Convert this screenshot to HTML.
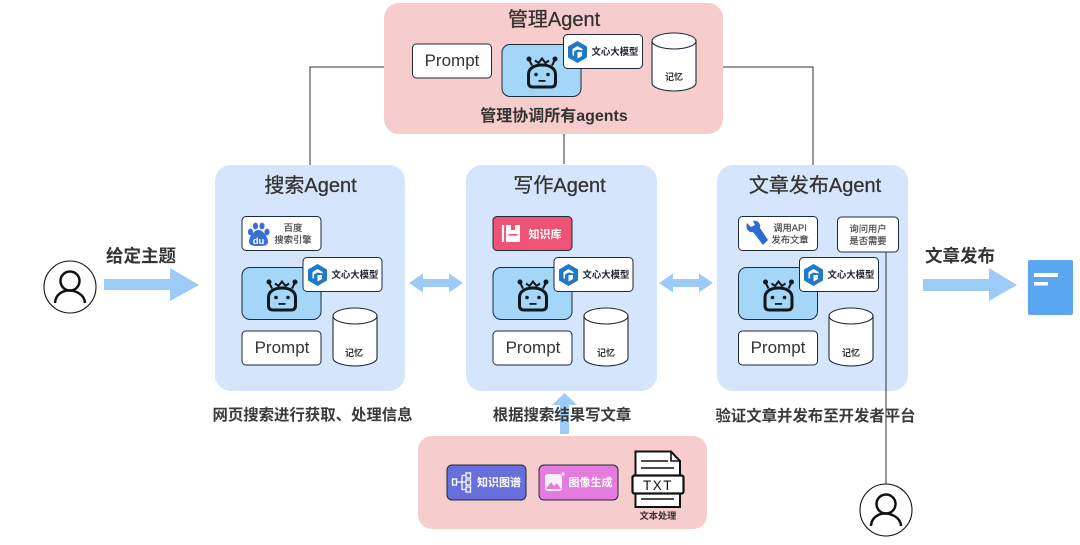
<!DOCTYPE html>
<html><head><meta charset="utf-8"><style>
html,body{margin:0;padding:0;background:#fff}
svg{display:block}
text{font-family:"Liberation Sans","Noto Sans CJK SC",sans-serif;fill:#333;text-anchor:middle}
.t{font-size:20px;stroke:#333;stroke-width:.3px}
.c{font-size:15.4px;font-weight:700;fill:#3a3a3a}
.h{font-size:17.5px;font-weight:700;fill:#333}
.p{font-size:17px;fill:#333}
.w{font-size:9.4px;font-weight:700;fill:#223}
.m{font-size:9px;font-weight:700;fill:#333}
.s{font-size:9.3px;fill:#444;stroke:#444;stroke-width:.15px}
.l{font-size:11px;font-weight:700;fill:#fff}
.card{fill:#fff;stroke:#1d2a3a;stroke-width:1}
</style></head><body>
<svg width="1080" height="545" viewBox="0 0 1080 545" xmlns="http://www.w3.org/2000/svg">
<defs>
<g id="robot">
<rect x="0" y="0" width="79" height="52" rx="8" fill="#a3d6f7" stroke="#1d2a3a"/>
<g fill="none" stroke="#10181f">
<path d="M26.500 38C26.500 41 28 42.500 31 42.500H49C52 42.500 53.500 41 53.500 38V30C53.500 24 48 20.500 40 20.500S26.500 24 26.500 30Z" stroke-width="3"/>
<path d="M30 21L27 15M50 21L53 15M33 16L36.500 18.500L40 14L43.500 18.500L47 16" stroke-width="2"/>
</g>
<circle cx="27" cy="14.500" r="2.500" fill="#10181f"/><circle cx="53" cy="14.500" r="2.500" fill="#10181f"/>
<circle cx="34" cy="30" r="1.800" fill="#10181f"/><circle cx="46" cy="30" r="1.800" fill="#10181f"/>
<rect x="36.500" y="35.500" width="7" height="1.800" fill="#10181f"/>
</g>
<g id="hex">
<path d="M9.500 0L19 5.500V16.500L9.500 22L0 16.500V5.500Z" fill="#1f78c8"/>
<path d="M9.500 5L14.500 8V9.500L9.500 8.500L6 10.500V15L4.500 14V8Z" fill="#fff"/>
<path d="M9.500 11H14V15L9.500 17.500Z" fill="#fff"/>
</g>
<g id="cyl">
<path d="M0 8V50A22 8 0 0 0 44 50V8" fill="#fff" stroke="#1d2a3a" stroke-width="1.100"/>
<ellipse cx="22" cy="8" rx="22" ry="8" fill="#fff" stroke="#1d2a3a" stroke-width="1.100"/>
</g>
<g id="user">
<circle cx="0" cy="0" r="26" fill="#fff" stroke="#111" stroke-width="1.100"/>
<circle cx="0" cy="-6" r="9.500" fill="none" stroke="#111" stroke-width="2.500"/>
<path d="M-15 16C-14.500 7-7 3.500-1 3.500S14.500 7 15 16" fill="none" stroke="#111" stroke-width="2.500"/>
</g>
</defs>

<!-- connectors -->
<g fill="none" stroke="#333" stroke-width="1">
<path d="M310 165V67H386"/>
<path d="M722 67H813V165"/>
<path d="M564 134V164"/>
</g>

<!-- manage -->
<rect x="384" y="3" width="339" height="131" rx="15" fill="#f6cdcc"/>
<text class="t" x="554" y="26">管理Agent</text>
<rect class="card" x="412.500" y="44" width="79" height="34" rx="4"/>
<text class="p" x="452" y="66">Prompt</text>
<use href="#robot" x="502" y="44.500"/>
<rect class="card" x="563.500" y="34.500" width="79" height="34" rx="4"/>
<use href="#hex" x="568" y="41"/>
<text class="w" x="615" y="55">文心大模型</text>
<use href="#cyl" x="652" y="33"/>
<text class="m" x="674" y="80">记忆</text>
<text x="554" y="121" style="font-size:16px;font-weight:700">管理协调所有agents</text>

<!-- search -->
<rect x="215" y="165" width="190" height="226" rx="16" fill="#d5e5fb"/>
<text class="t" x="310.500" y="192">搜索Agent</text>
<rect class="card" x="242" y="216.500" width="79" height="34" rx="4"/>
<g fill="#3a6fd8">
<ellipse cx="250.500" cy="232" rx="2.600" ry="3.400"/><ellipse cx="255.500" cy="226" rx="2.600" ry="3.400"/><ellipse cx="262" cy="226" rx="2.600" ry="3.400"/><ellipse cx="267" cy="232" rx="2.600" ry="3.400"/>
<path d="M258.500 230C254 230 249 237 249 241.500C249 246 254 246 258.500 246S268 246 268 241.500C268 237 263 230 258.500 230Z"/>
</g>
<text x="258.500" y="244" style="font-size:9.500px;font-weight:700;fill:#fff">du</text>
<text class="s" x="293" y="231">百度</text>
<text class="s" x="293" y="243">搜索引擎</text>
<use href="#robot" x="242" y="267.500"/>
<rect class="card" x="303" y="257.500" width="79" height="34" rx="4"/>
<use href="#hex" x="308" y="264"/>
<text class="w" x="355" y="278">文心大模型</text>
<rect class="card" x="242" y="331" width="79" height="34" rx="4"/>
<text class="p" x="282" y="353">Prompt</text>
<use href="#cyl" x="333" y="308"/>
<text class="m" x="354" y="356">记忆</text>

<!-- write -->
<rect x="466" y="165" width="191" height="226" rx="16" fill="#d5e5fb"/>
<text class="t" x="559.500" y="192">写作Agent</text>
<rect x="493" y="216.500" width="79" height="34" rx="4" fill="#ee5376" stroke="#1d2a3a"/>
<path d="M503 225V242" stroke="#fff" stroke-width="2.200" fill="none"/>
<path d="M506 225H511V230H515V225H520V242H506Z" fill="#fff"/>
<rect x="508.500" y="234" width="9" height="1.600" fill="#ee5376"/>
<text class="l" x="545" y="238">知识库</text>
<use href="#robot" x="493" y="267.500"/>
<rect class="card" x="554" y="257.500" width="79" height="34" rx="4"/>
<use href="#hex" x="559" y="264"/>
<text class="w" x="606" y="278">文心大模型</text>
<rect class="card" x="493" y="331" width="79" height="34" rx="4"/>
<text class="p" x="533" y="353">Prompt</text>
<use href="#cyl" x="584" y="308"/>
<text class="m" x="606" y="356">记忆</text>

<!-- publish -->
<rect x="717" y="165" width="191" height="226" rx="16" fill="#d5e5fb"/>
<text class="t" x="815" y="192">文章发布Agent</text>
<rect class="card" x="738.500" y="216.500" width="79" height="34" rx="4"/>
<path d="M747 223L751 227L755 225L753 221C757 220 761 223 760 228L768 240L763 245L753 232C749 233 745 229 747 223Z" fill="#2f6ad3"/>
<text class="s" x="790" y="231">调用API</text>
<text class="s" x="790" y="243">发布文章</text>
<rect class="card" x="837.500" y="217" width="61" height="35" rx="4"/>
<text class="s" x="868" y="232">询问用户</text>
<text class="s" x="868" y="244">是否需要</text>
<use href="#robot" x="738.500" y="267.500"/>
<rect class="card" x="799.500" y="257.500" width="79" height="34" rx="4"/>
<use href="#hex" x="804" y="264"/>
<text class="w" x="851" y="278">文心大模型</text>
<rect class="card" x="738.500" y="331" width="79" height="34" rx="4"/>
<text class="p" x="778" y="353">Prompt</text>
<use href="#cyl" x="829" y="308"/>
<text class="m" x="851" y="356">记忆</text>
<path d="M886 252V484" stroke="#333" stroke-width="1" fill="none"/>

<!-- arrows -->
<g fill="#9ccbf8">
<path d="M104 279H170V268L199 285L170 301V290H104Z"/>
<path d="M923 279H989V268L1017 285L989 301V291H923Z"/>
<path d="M409 283L423 273.500V279H449V273.500L463 283L449 292.500V287H423V292.500Z"/>
<path d="M659 283L673 273.500V279H699V273.500L713 283L699 292.500V287H673V292.500Z"/>
<path d="M564.500 393L577 405H569V434H560V405H552Z"/>
</g>
<text class="h" x="141" y="262">给定主题</text>
<text class="h" x="960" y="262">文章发布</text>
<text class="c" x="312.500" y="420">网页搜索进行获取、处理信息</text>
<text class="c" x="562" y="420">根据搜索结果写文章</text>
<text class="c" x="815.500" y="421">验证文章并发布至开发者平台</text>

<use href="#user" x="70" y="287"/>
<use href="#user" x="886" y="510"/>

<!-- doc -->
<rect x="1028" y="260" width="45" height="55" rx="2" fill="#5ba7f2"/>
<rect x="1034" y="273" width="24" height="4" fill="#fff"/>
<rect x="1034" y="282" width="14" height="3.500" fill="#fff"/>

<!-- tools -->
<rect x="418" y="436" width="289" height="93" rx="14" fill="#f6cdcc"/>
<rect x="447" y="465" width="79" height="35" rx="5" fill="#686fdc" stroke="#1d2a3a"/>
<g fill="none" stroke="#fff" stroke-width="1.300">
<rect x="452.500" y="479" width="4" height="6"/>
<rect x="466" y="473" width="4.500" height="5"/>
<rect x="466" y="480" width="4.500" height="5"/>
<rect x="466" y="487" width="4.500" height="5"/>
<path d="M456.500 482H466M462 475.500V489.500H466M462 475.500H466"/>
</g>
<text class="l" x="499" y="486">知识图谱</text>
<rect x="539" y="465" width="79" height="35" rx="5" fill="#e57bdf" stroke="#1d2a3a"/>
<rect x="545" y="474" width="17" height="17" rx="3" fill="#fff" opacity=".9"/>
<path d="M546 489L551 482L554 486L557 483L561 489Z" fill="#e57bdf"/>
<path d="M561 474H565M563 472V476" stroke="#fff" fill="none"/>
<text class="l" x="590.500" y="486">图像生成</text>
<path d="M635.500 451.500H671L680 461V507H635.500Z" fill="#fff" stroke="#111" stroke-width="2"/>
<path d="M671 451.500V461H680" fill="none" stroke="#111" stroke-width="1.600"/>
<path d="M641 461H668M641 468H674M641 499H674" stroke="#111" stroke-width="1.600" fill="none"/>
<rect x="632.500" y="475.500" width="51" height="18" rx="2" fill="#fff" stroke="#111" stroke-width="2.200"/>
<text x="658" y="490" style="font-size:13.500px;letter-spacing:1.500px;fill:#111">TXT</text>
<text x="658" y="519" style="font-size:9.200px;font-weight:700;fill:#333">文本处理</text>
</svg>
</body></html>
